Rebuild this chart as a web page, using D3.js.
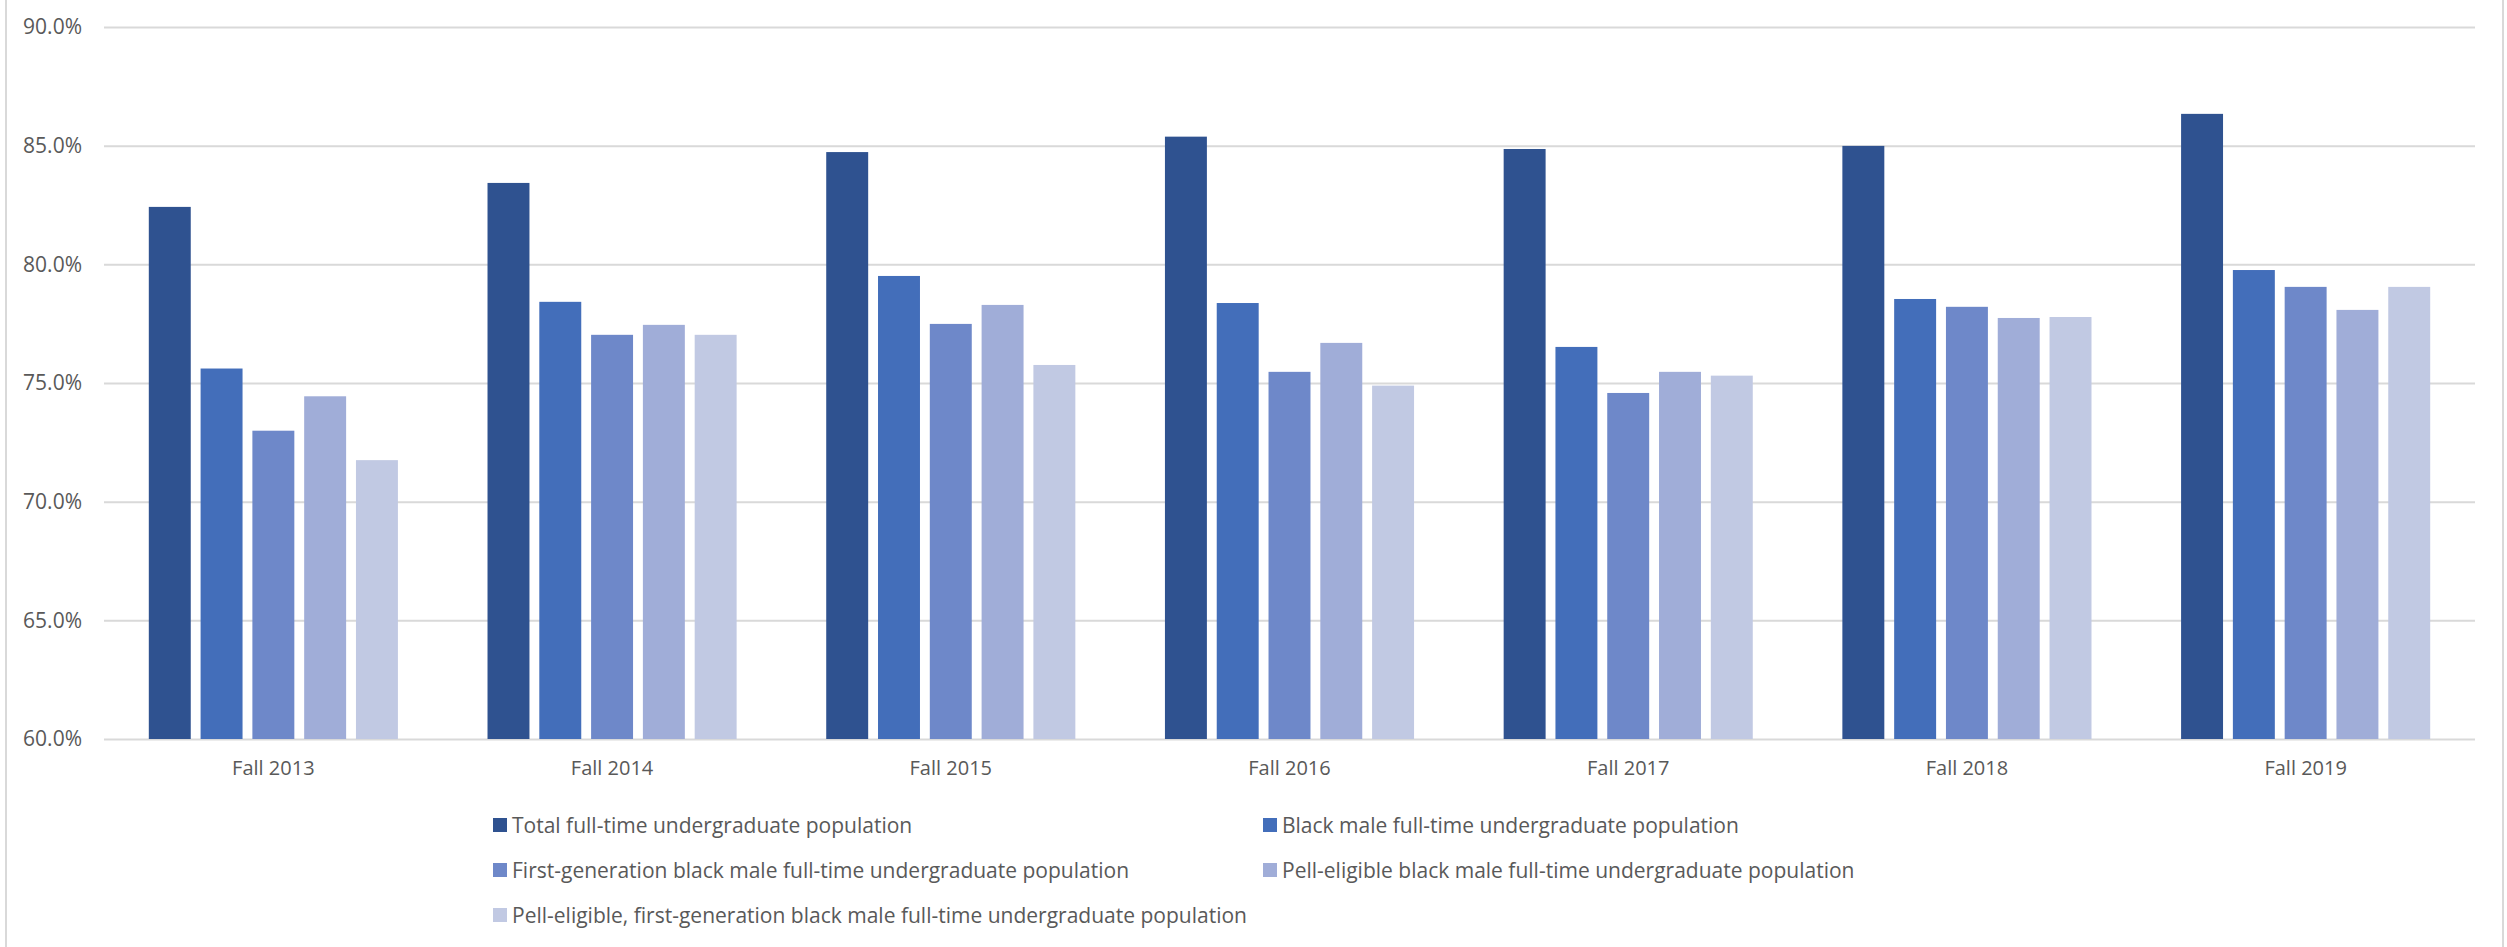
<!DOCTYPE html>
<html>
<head>
<meta charset="utf-8">
<script src="https://cdn.jsdelivr.net/npm/d3@7"></script>
<style>
  html, body { margin: 0; padding: 0; background: #ffffff; }
  svg { display: block; }
</style>
</head>
<body>
<svg id="chart" width="2507" height="947"></svg>
<script>
// Retention rates by cohort (percent)
const years = ["Fall 2013", "Fall 2014", "Fall 2015", "Fall 2016", "Fall 2017", "Fall 2018", "Fall 2019"];
const seriesNames = [
  "Total full-time undergraduate population",
  "Black male full-time undergraduate population",
  "First-generation black male full-time undergraduate population",
  "Pell-eligible black male full-time undergraduate population",
  "Pell-eligible, first-generation black male full-time undergraduate population"
];
const totalPop        = [82.42, 83.43, 84.73, 85.38, 84.86, 84.99, 86.34];
const blackMale       = [75.61, 78.42, 79.51, 78.37, 76.52, 78.54, 79.76];
const firstGenBM      = [72.99, 77.03, 77.49, 75.47, 74.58, 78.21, 79.05];
const pellBM          = [74.44, 77.45, 78.29, 76.69, 75.47, 77.74, 78.08];
const pellFirstGenBM  = [71.75, 77.03, 75.76, 74.89, 75.31, 77.78, 79.05];
const yTicks = [60, 65, 70, 75, 80, 85, 90];

const seriesValues = [totalPop, blackMale, firstGenBM, pellBM, pellFirstGenBM];
const colors = ["#2F5290", "#436EBA", "#6E88C9", "#A0ADD8", "#C1C9E3"];

const svg = d3.select("#chart");
const W = 2507, H = 947;
const plot = { left: 104, right: 2475, top: 27, bottom: 739 };

// chart frame
svg.append("rect")
  .attr("x", 6).attr("y", -4)
  .attr("width", 2497).attr("height", H + 8)
  .attr("fill", "#ffffff")
  .attr("stroke", "#d9d9d9").attr("stroke-width", 2);

const x0 = d3.scaleBand().domain(years).range([plot.left, plot.right]).padding(0);
const x1 = d3.scaleBand().domain(d3.range(seriesNames.length))
  .range([0, x0.bandwidth()]).paddingInner(0.19).paddingOuter(0.865);
const y = d3.scaleLinear().domain([60, 90]).range([plot.bottom, plot.top]);

// horizontal gridlines
const yAxis = d3.axisLeft(y).tickValues(yTicks)
  .tickSize(-(plot.right - plot.left))
  .tickPadding(22)
  .tickFormat(d => d.toFixed(1) + "%");
const gy = svg.append("g").attr("transform", `translate(${plot.left},0)`).call(yAxis);
gy.select(".domain").remove();
gy.selectAll(".tick line").attr("stroke", "#d9d9d9").attr("stroke-width", 2);
gy.selectAll(".tick text")
  .attr("fill", "#595959")
  .style("font-family", "'Open Sans', 'DejaVu Sans', sans-serif")
  .style("font-size", "21px");

// bars
const rows = years.map((yr, i) => ({ year: yr, values: seriesValues.map(s => s[i]) }));
const groups = svg.append("g").selectAll("g")
  .data(rows).join("g")
  .attr("transform", d => `translate(${x0(d.year)},0)`);
groups.selectAll("rect")
  .data(d => d.values.map((v, k) => ({ k, v })))
  .join("rect")
  .attr("x", d => x1(d.k))
  .attr("width", x1.bandwidth())
  .attr("y", d => y(d.v))
  .attr("height", d => y(60) - y(d.v))
  .attr("fill", d => colors[d.k]);

// category labels
const xAxis = d3.axisBottom(x0).tickSize(0).tickPadding(22);
const gx = svg.append("g").attr("transform", `translate(0,${plot.bottom})`).call(xAxis);
gx.select(".domain").remove();
gx.selectAll(".tick text")
  .attr("fill", "#595959")
  .style("font-family", "'Open Sans', 'DejaVu Sans', sans-serif")
  .style("font-size", "20px");

// legend: two columns, filled row by row
const legendCols = [493, 1263];
const legendRowY = d3.scaleLinear().domain([0, 2]).range([825, 915]);
const legend = svg.append("g").selectAll("g")
  .data(seriesNames.map((name, k) => ({ name, k })))
  .join("g")
  .attr("transform", d => `translate(${legendCols[d.k % 2]},${legendRowY(Math.floor(d.k / 2))})`);
legend.append("rect")
  .attr("x", 0).attr("y", -7).attr("width", 14).attr("height", 14)
  .attr("fill", d => colors[d.k]);
const legendText = legend.append("text")
  .attr("x", 19).attr("y", 0).attr("dy", "0.36em")
  .attr("fill", "#595959")
  .style("font-family", "'Liberation Sans Narrow', 'Open Sans', sans-serif")
  .style("font-size", "22px")
  .text(d => d.name);

// squeeze legend text to a narrow face width
const longest = legendText.filter(d => d.k === 4).node().getComputedTextLength();
const squeeze = 735 / longest;
legendText.each(function () {
  const w = this.getComputedTextLength();
  d3.select(this).attr("textLength", w * squeeze).attr("lengthAdjust", "spacingAndGlyphs");
});
</script>
</body>
</html>
